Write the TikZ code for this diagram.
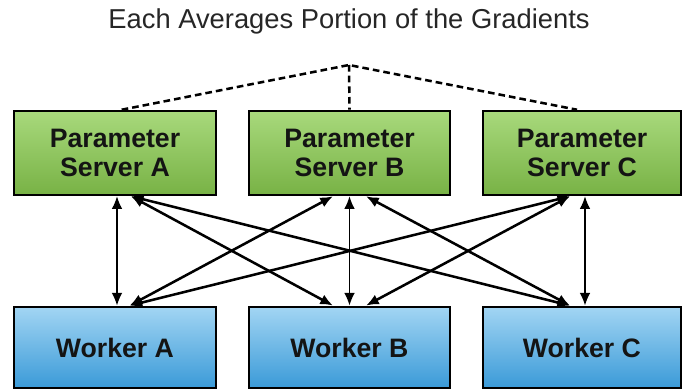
\documentclass[tikz,border=0pt]{standalone}
\usepackage{fontspec}
\setmainfont{Liberation Sans}
\usetikzlibrary{arrows.meta}
\definecolor{gtop}{HTML}{A8D97C}
\definecolor{gbot}{HTML}{78B245}
\definecolor{btop}{HTML}{A2D5F3}
\definecolor{bbot}{HTML}{3A9AD8}
\tikzset{
  box/.style={draw=black, line width=1.9pt, inner sep=0pt, minimum height=63pt,
    font=\fontsize{20}{21.5}\selectfont\bfseries, align=center, text=black!92},
  server/.style={box, top color=gtop, bottom color=gbot},
  worker/.style={box, top color=btop, bottom color=bbot, minimum height=61pt},
  link/.style={line width=1.9pt, {Latex[length=9.5pt,width=8pt]}-{Latex[length=9.5pt,width=8pt]}},
  vlink/.style={line width=1.1pt, {Latex[length=9.5pt,width=8pt]}-{Latex[length=9.5pt,width=8pt]}},
  avg/.style={line width=1.9pt, dash pattern=on 5pt off 3pt}
}
\begin{document}
\begin{tikzpicture}[x=0.75pt,y=-0.75pt]
\useasboundingbox (0,0) rectangle (682,389);
\node[font=\fontsize{20.5}{22}\selectfont, text=black!85] (title) at (349,21) {Each Averages Portion of the Gradients};
\node[server, minimum width=151.5pt] (sA) at (115,153) {Parameter\\Server A};
\node[server, minimum width=150.75pt] (sB) at (349.5,153) {Parameter\\Server B};
\node[server, minimum width=148.5pt] (sC) at (582,153) {Parameter\\Server C};
\node[worker, minimum width=151.5pt] (wA) at (115,347.5) {Worker A};
\node[worker, minimum width=150.75pt] (wB) at (349.5,347.5) {Worker B};
\node[worker, minimum width=148.5pt] (wC) at (582,347.5) {Worker C};
\coordinate (apex) at (349,65);
\draw[avg] ([xshift=5pt]sA.north) -- (apex) -- ([xshift=-3.75pt]sC.north);
\draw[avg] (apex) -- (sB.north);
% vertical links
\draw[vlink] ([xshift=1.5pt]sA.south) -- ([xshift=1.5pt]wA.north);
\draw[vlink] (sB.south) -- (wB.north);
\draw[vlink] ([xshift=2.25pt]sC.south) -- ([xshift=2.25pt]wC.north);
% diagonal links
\draw[link] ([xshift=12pt]sA.south) -- ([xshift=-12.4pt]wB.north);
\draw[link] ([xshift=12pt]sA.south) -- ([xshift=-9pt]wC.north);
\draw[link] ([xshift=-12.4pt]sB.south) -- ([xshift=11pt]wA.north);
\draw[link] ([xshift=12.4pt]sB.south) -- ([xshift=-9pt]wC.north);
\draw[link] ([xshift=-9pt]sC.south) -- ([xshift=11pt]wA.north);
\draw[link] ([xshift=-9pt]sC.south) -- ([xshift=12.4pt]wB.north);
\end{tikzpicture}
\end{document}
